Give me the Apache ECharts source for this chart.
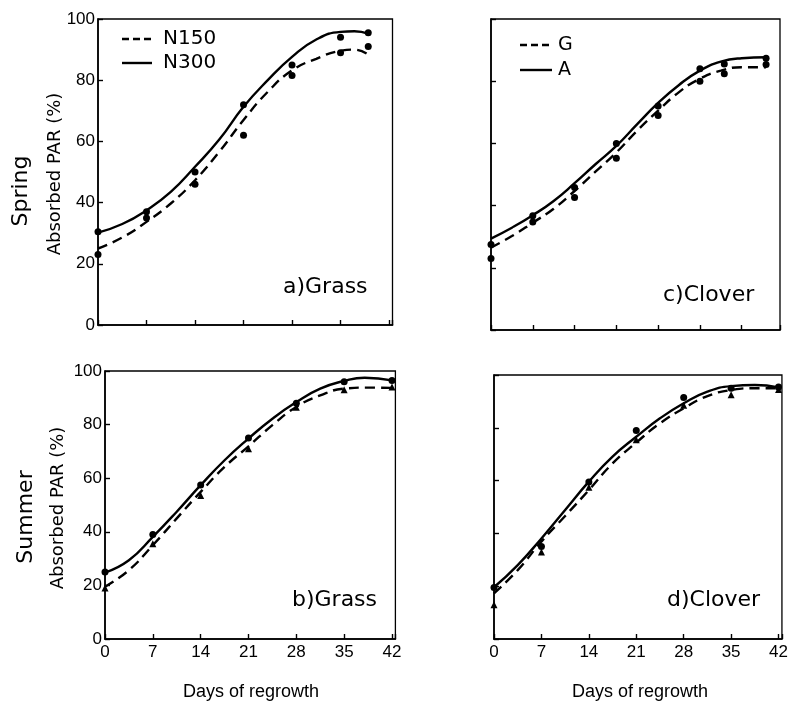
<!DOCTYPE html>
<html>
<head>
<meta charset="utf-8">
<script src="https://cdn.jsdelivr.net/npm/echarts@6/dist/echarts.min.js"></script>
<style>
html,body{margin:0;padding:0;background:#fff;}
#chart{width:791px;height:702px;}
</style>
</head>
<body>
<div id="chart"></div>
<script>
// ---------- data ----------
const yTicks = [0, 20, 40, 60, 80, 100];
const xTickLabels = [0, 7, 14, 21, 28, 35, 42];

// a) Spring Grass
const aN300Pts = [[0,30.5],[7,37],[14,50],[21,72],[28,85],[35,94],[39,95.5]];
const aN150Pts = [[0,23],[7,35],[14,46],[21,62],[28,81.5],[35,89],[39,91]];
const aN300Fit = [[0,30.2],[3.5,33],[7,37.5],[10.5,43.5],[14,51.7],[17.5,60.6],[21,71.3],[24.5,80],[28,87.6],[31.5,93.3],[35,95.8],[37,96],[39,95.2]];
const aN150Fit = [[0,25],[3.5,28.6],[7,33.7],[10.5,39.7],[14,47.3],[17.5,56.6],[21,67],[24.5,76.2],[28,83.2],[31.5,87],[35,89.6],[37,90],[39,88.4]];

// b) Summer Grass
const bN300Pts = [[0,25],[7,39],[14,57.5],[21,75],[28,88],[35,96],[42,96.5]];
const bN150Pts = [[0,19],[7,35.5],[14,53.5],[21,71],[28,86.5],[35,93],[42,94]];
const bN300Fit = [[0,24.8],[3.5,29.4],[7,38.1],[10.5,47.5],[14,57.4],[17.5,66.7],[21,74.8],[24.5,82.2],[28,88.4],[31.5,93.4],[35,96.3],[38,97.5],[42,96.5]];
const bN150Fit = [[0,19.5],[3.5,25.7],[7,35],[10.5,45],[14,54.9],[17.5,64.2],[21,71.9],[24.5,79.8],[28,86.6],[31.5,90.9],[35,93.4],[38.5,93.8],[42,93.7]];

// c) Spring Clover
const cAPts = [[0,27.5],[6,36.7],[12,45.8],[18,60],[24,72],[30,84],[33.5,85.5],[39.5,87.4]];
const cGPts = [[0,23],[6,34.7],[12,42.6],[18,55.2],[24,69],[30,80],[33.5,82.4],[39.5,85.4]];
const cAFit = [[0,29.4],[3,32.9],[6,36.9],[9,41.5],[12,47.2],[15,53.3],[18,59.2],[21,66.2],[24,73],[27,78.8],[30,83.4],[33,86.3],[36,87.4],[39.5,87.7]];
const cGFit = [[0,26.5],[3,30.2],[6,34.5],[9,39],[12,44.7],[15,50.9],[18,57.1],[21,64.1],[24,70.5],[27,76.5],[30,80.8],[33,83.4],[36,84.5],[39.5,84.5]];

// d) Summer Clover
const dAPts = [[0,19.5],[7,35],[14,59.5],[21,79],[28,91.5],[35,95],[42,95.5]];
const dGPts = [[0,13],[7,33],[14,57.5],[21,75.5],[28,88.5],[35,92.5],[42,94.5]];
const dAFit = [[0,19.6],[3.5,28],[7,38.1],[10.5,48.9],[14,59.6],[17.5,69.1],[21,76.6],[24.5,83.6],[28,89.3],[31.5,93.7],[35,95.8],[38.5,96.2],[42,95.3]];
const dGFit = [[0,17.3],[3.5,26.1],[7,36.9],[10.5,46.6],[14,56.4],[17.5,66.5],[21,74.4],[24.5,81.7],[28,87.4],[31.5,92],[35,94.3],[38.5,95],[42,95]];

// ---------- chart ----------
const SANS = '"Liberation Sans", Arial, sans-serif';
const WIDE = '"DejaVu Sans", sans-serif';

const grids = [
  {left: 98,  top: 19,  width: 294.5, height: 306, show: true, borderColor: '#000', borderWidth: 1.3, backgroundColor: 'transparent'},
  {left: 105, top: 371, width: 290.4, height: 268, show: true, borderColor: '#000', borderWidth: 1.3, backgroundColor: 'transparent'},
  {left: 491, top: 19,  width: 289,   height: 311, show: true, borderColor: '#000', borderWidth: 1.3, backgroundColor: 'transparent'},
  {left: 494, top: 375, width: 291.4, height: 264, show: true, borderColor: '#000', borderWidth: 1.3, backgroundColor: 'transparent'}
];

function xAxis(i, max, interval, showLabels) {
  return {
    type: 'value', gridIndex: i, min: 0, max: max, interval: interval,
    axisLine: {show: true, onZero: false, lineStyle: {color: '#000', width: 1.6}},
    axisTick: {show: true, inside: true, length: 5, lineStyle: {color: '#000', width: 1.4}},
    splitLine: {show: false},
    axisLabel: {
      show: showLabels, color: '#000', fontFamily: SANS, fontSize: 17, margin: 5,
      formatter: function (v) { return xTickLabels.indexOf(v) >= 0 ? String(v) : ''; }
    }
  };
}
function yAxis(i, showLabels) {
  return {
    type: 'value', gridIndex: i, min: yTicks[0], max: yTicks[yTicks.length - 1], interval: 20,
    axisLine: {show: true, onZero: false, lineStyle: {color: '#000', width: 1.6}},
    axisTick: {show: true, inside: true, length: 5, lineStyle: {color: '#000', width: 1.4}},
    splitLine: {show: false},
    axisLabel: {show: showLabels, color: '#000', fontFamily: SANS, fontSize: 17, margin: 3}
  };
}

function fit(i, data, dashed) {
  return {
    type: 'line', xAxisIndex: i, yAxisIndex: i, data: data, smooth: 0.5,
    showSymbol: false, symbol: 'none', silent: true,
    lineStyle: {color: '#000', width: 2.4, type: dashed ? [10, 6] : 'solid'},
    z: 2
  };
}
function pts(i, data, shape) {
  return {
    type: 'scatter', xAxisIndex: i, yAxisIndex: i, data: data,
    symbol: shape, symbolSize: 7,
    itemStyle: {color: '#000', opacity: 1}, z: 3, silent: true
  };
}

function txt(x, y, s, size, family, rot, align) {
  return {
    type: 'text', x: x, y: y, rotation: rot || 0, silent: true,
    style: {text: s, fill: '#000', font: size + 'px ' + family,
            textAlign: align || 'left', textVerticalAlign: 'middle'}
  };
}
function seg(x1, x2, y, dashed) {
  return {
    type: 'line', silent: true,
    shape: {x1: x1, y1: y, x2: x2, y2: y},
    style: {stroke: '#000', lineWidth: 2.4, lineDash: dashed ? [7, 4] : null}
  };
}

const option = {
  backgroundColor: '#fff',
  animation: false,
  grid: grids,
  xAxis: [xAxis(0, 42.5, 7, false), xAxis(1, 42.5, 7, true), xAxis(2, 41.5, 6, false), xAxis(3, 42.5, 7, true)],
  yAxis: [yAxis(0, true), yAxis(1, true), yAxis(2, false), yAxis(3, false)],
  series: [
    fit(0, aN300Fit, false), fit(0, aN150Fit, true), pts(0, aN300Pts, 'circle'), pts(0, aN150Pts, 'circle'),
    fit(1, bN300Fit, false), fit(1, bN150Fit, true), pts(1, bN300Pts, 'circle'), pts(1, bN150Pts, 'triangle'),
    fit(2, cAFit, false), fit(2, cGFit, true), pts(2, cAPts, 'circle'), pts(2, cGPts, 'circle'),
    fit(3, dAFit, false), fit(3, dGFit, true), pts(3, dAPts, 'circle'), pts(3, dGPts, 'triangle')
  ],
  graphic: [
    txt(21, 191, 'Spring', 22, WIDE, Math.PI / 2, 'center'),
    txt(55, 174, 'Absorbed PAR (%)', 18, WIDE, Math.PI / 2, 'center'),
    txt(26, 517, 'Summer', 22, WIDE, Math.PI / 2, 'center'),
    txt(58, 508, 'Absorbed PAR (%)', 18, WIDE, Math.PI / 2, 'center'),
    txt(251, 692, 'Days of regrowth', 18, SANS, 0, 'center'),
    txt(640, 692, 'Days of regrowth', 18, SANS, 0, 'center'),
    txt(283, 287, 'a)Grass', 22, WIDE),
    txt(292, 600, 'b)Grass', 22, WIDE),
    txt(663, 295, 'c)Clover', 22, WIDE),
    txt(667, 600, 'd)Clover', 22, WIDE),
    seg(122, 152, 39, true), txt(163, 39, 'N150', 20, WIDE),
    seg(122, 152, 63, false), txt(163, 63, 'N300', 20, WIDE),
    seg(520, 552, 45, true), txt(558, 45, 'G', 19, WIDE),
    seg(520, 552, 70, false), txt(558, 70, 'A', 19, WIDE)
  ]
};

const chart = echarts.init(document.getElementById('chart'), null, {renderer: 'canvas'});
chart.setOption(option);
</script>
</body>
</html>
